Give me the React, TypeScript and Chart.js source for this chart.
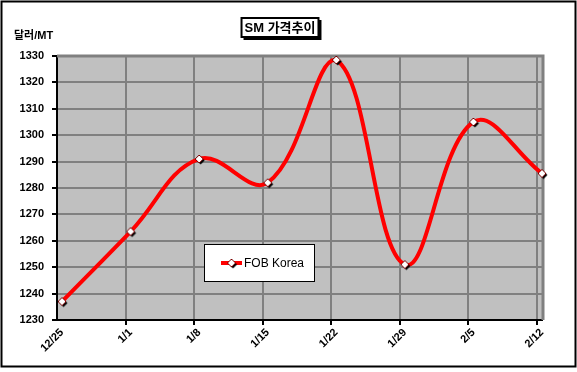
import React, { useEffect, useRef } from "react";
import { Chart, registerables } from "chart.js";

Chart.register(...registerables);

const TITLE = "SM 가격추이";
const Y_UNIT = "달러/MT";
const SERIES_NAME = "FOB Korea";
const categories = ["12/25", "1/1", "1/8", "1/15", "1/22", "1/29", "2/5", "2/12"];
const prices = [1237, 1263.5, 1291, 1282, 1328.5, 1251, 1305, 1285.5];
const Y_MIN = 1230;
const Y_MAX = 1330;
const Y_STEP = 10;

const FONT = "Arial, 'Liberation Sans', 'Noto Sans CJK KR', sans-serif";
const POINT_SHIFT = 0.073; // points sit slightly right of the category gridlines

function makeDiamond(): HTMLCanvasElement {
  const c = document.createElement("canvas");
  c.width = 14;
  c.height = 14;
  const g = c.getContext("2d")!;
  const d = (cx: number, cy: number, r: number) => {
    g.beginPath();
    g.moveTo(cx, cy - r);
    g.lineTo(cx + r, cy);
    g.lineTo(cx, cy + r);
    g.lineTo(cx - r, cy);
    g.closePath();
  };
  g.fillStyle = "#000";
  d(8.5, 8.5, 4);
  g.fill();
  g.fillStyle = "#fff";
  g.strokeStyle = "#7a0000";
  g.lineWidth = 1;
  d(7, 7, 4);
  g.fill();
  g.stroke();
  return c;
}

export default function App() {
  const ref = useRef<HTMLCanvasElement>(null);

  useEffect(() => {
    const canvas = ref.current!;
    const diamond = makeDiamond();

    const plotBg = {
      id: "plotBg",
      beforeDraw(chart: any) {
        const { ctx, chartArea: a } = chart;
        ctx.save();
        ctx.fillStyle = "#fff";
        ctx.fillRect(0, 0, chart.width, chart.height);
        ctx.fillStyle = "#C0C0C0";
        ctx.fillRect(a.left, a.top, a.right - a.left, a.bottom - a.top);
        ctx.restore();
      },
      beforeDatasetsDraw(chart: any) {
        const { ctx, chartArea: a } = chart;
        ctx.save();
        ctx.strokeStyle = "#808080";
        ctx.lineWidth = 3;
        ctx.beginPath();
        ctx.moveTo(a.left, a.top);
        ctx.lineTo(a.right + 1, a.top);
        ctx.lineTo(a.right + 1, a.bottom);
        ctx.stroke();
        ctx.restore();
      },
    };

    const decor = {
      id: "decor",
      afterDraw(chart: any) {
        const { ctx } = chart;
        ctx.save();
        // outer frame
        ctx.strokeStyle = "#000";
        ctx.lineWidth = 2;
        ctx.strokeRect(1.5, 1.5, chart.width - 3, chart.height - 7);

        // title box
        ctx.font = `bold 13px ${FONT}`;
        const tw = ctx.measureText(TITLE).width;
        const cx = 280;
        const cy = 27.5;
        const bw = tw + 6;
        const bh = 19;
        const bx = cx - bw / 2;
        const by = cy - bh / 2;
        ctx.fillStyle = "#000";
        ctx.fillRect(bx + 2, by + 2, bw + 1, bh + 1);
        ctx.fillStyle = "#fff";
        ctx.fillRect(bx, by, bw, bh);
        ctx.lineWidth = 2;
        ctx.strokeStyle = "#000";
        ctx.strokeRect(bx, by, bw, bh);
        ctx.fillStyle = "#000";
        ctx.textAlign = "center";
        ctx.textBaseline = "middle";
        ctx.fillText(TITLE, cx, cy + 1);

        // y unit
        ctx.font = `bold 11px ${FONT}`;
        ctx.textAlign = "left";
        ctx.fillText(Y_UNIT, 14, 36);

        // legend box
        const ds = chart.data.datasets[0];
        const lx = 204.5, ly = 244.5, lw = 110, lh = 37;
        ctx.fillStyle = "#fff";
        ctx.fillRect(lx, ly, lw, lh);
        ctx.lineWidth = 1;
        ctx.strokeStyle = "#000";
        ctx.strokeRect(lx, ly, lw, lh);
        const my = ly + lh / 2;
        ctx.strokeStyle = ds.borderColor;
        ctx.lineWidth = 4;
        ctx.beginPath();
        ctx.moveTo(221, my);
        ctx.lineTo(242, my);
        ctx.stroke();
        ctx.drawImage(diamond, 231.5 - 7, my - 7);
        ctx.fillStyle = "#000";
        ctx.font = `12px ${FONT}`;
        ctx.textBaseline = "middle";
        ctx.fillText(ds.label, 244, my + 1);
        ctx.restore();
      },
    };

    const tickFont = { family: FONT, size: 11, weight: "bold" as const };

    const chart = new Chart(canvas, {
      type: "line",
      data: {
        datasets: [
          {
            label: SERIES_NAME,
            xAxisID: "x",
            yAxisID: "y",
            data: prices.map((y, i) => ({ x: i, y })),
            borderColor: "#FF0000",
            backgroundColor: "#FF0000",
            borderWidth: 4,
            tension: 0.4,
            fill: false,
            pointStyle: diamond as any,
            pointRadius: 5,
            pointHoverRadius: 5,
            clip: false as any,
          },
        ],
      },
      options: {
        animation: false,
        responsive: false,
        events: [],
        layout: { padding: { left: 0, top: 56, right: 35, bottom: 0 } },
        plugins: {
          legend: { display: false },
          title: { display: false },
          tooltip: { enabled: false },
        },
        scales: {
          x: {
            type: "linear",
            position: "bottom",
            weight: 1,
            bounds: "data",
            min: -POINT_SHIFT,
            max: categories.length - 1,
            afterBuildTicks(s: any) {
              s.ticks = categories.map((_, i) => ({ value: i }));
            },
            ticks: {
              callback: (v: any) => categories[v],
              maxRotation: 45,
              minRotation: 45,
              autoSkip: false,
              color: "#000",
              font: tickFont,
              padding: 6,
            },
            grid: { display: false, drawTicks: false },
            border: { display: false },
            afterFit(s: any) {
              s.height = 52;
            },
          },
          xg: {
            type: "linear",
            position: "bottom",
            weight: 0,
            bounds: "data",
            min: 0,
            max: categories.length - 1 + POINT_SHIFT,
            afterBuildTicks(s: any) {
              s.ticks = categories.slice(1).map((_, i) => ({ value: i + 1 }));
            },
            ticks: { display: false },
            grid: { color: "#808080", lineWidth: 2, tickColor: "#000", tickLength: 5, tickWidth: 2 },
            border: { color: "#000", width: 2 },
            afterFit(s: any) {
              s.height = 0;
            },
          },
          y: {
            type: "linear",
            min: Y_MIN,
            max: Y_MAX,
            ticks: {
              stepSize: Y_STEP,
              color: "#000",
              font: tickFont,
              padding: 8,
              callback: (v: any) => String(v),
            },
            grid: {
              color: (c: any) => (c.tick && c.tick.value === Y_MIN ? "rgba(0,0,0,0)" : "#808080"),
              lineWidth: 2,
              tickColor: "#000",
              tickLength: 5,
              tickWidth: 2,
            },
            border: { color: "#000", width: 2 },
            afterFit(s: any) {
              s.width = 57;
            },
          },
        },
      },
      plugins: [plotBg, decor],
    });

    return () => chart.destroy();
  }, []);

  return (
    <div style={{ position: "absolute", left: 0, top: 0, width: 577, height: 372, background: "#fff" }}>
      <canvas ref={ref} width={577} height={372} style={{ display: "block" }} />
    </div>
  );
}
